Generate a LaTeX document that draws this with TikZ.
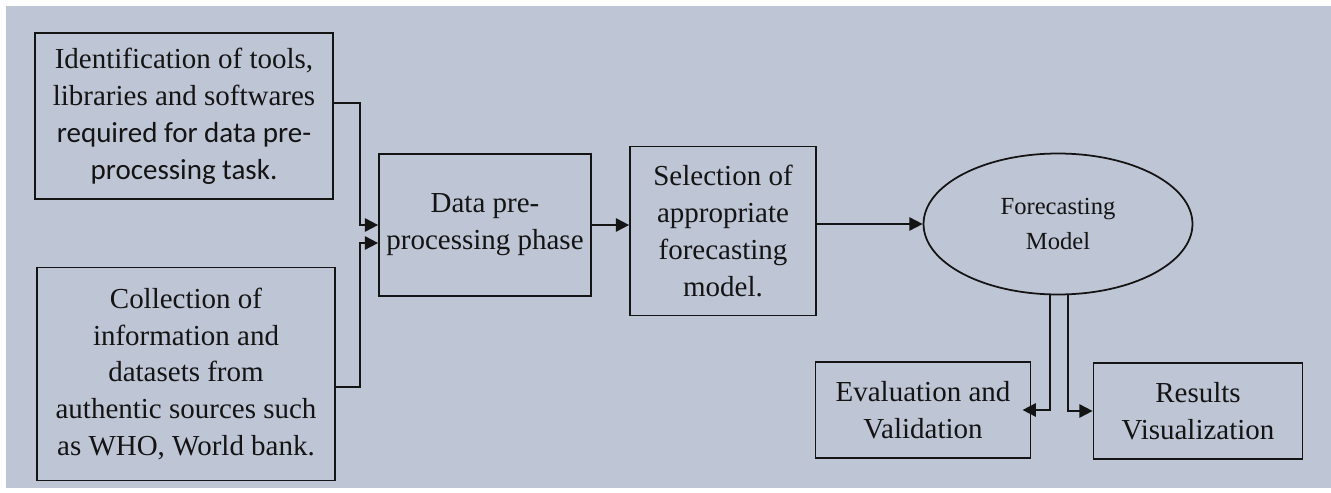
\documentclass[tikz,border=0pt]{standalone}
\usepackage{fontspec}
\setmainfont{Liberation Serif}
\newfontfamily\calib{Carlito}
\usetikzlibrary{arrows.meta, shapes.geometric}
\definecolor{bgcol}{RGB}{190,197,213}
\definecolor{inkcol}{RGB}{20,20,20}

\begin{document}
\begin{tikzpicture}[x=0.02cm, y=-0.02cm,
    box/.style={draw=inkcol, line width=1pt, align=center, inner sep=0pt,
        font=\fontsize{16.5}{21}\selectfont, text=inkcol},
    flow/.style={draw=inkcol, line width=1pt, -{Triangle[length=7.5pt,width=7.5pt]}}]

    % Background panel
    \fill[bgcol] (6,6) rectangle (1331,488);
    \useasboundingbox (0,0) rectangle (1331,493);

    % Inputs on the left
    \node[box, minimum width=5.96cm, minimum height=3.32cm] (ident) at (184,116)
        {Identification of tools,\\ libraries and softwares\\
         {\calib required for data pre-}\\ {\calib processing task.}};
    \node[box, minimum width=5.96cm, minimum height=4.26cm] (collect) at (186,374)
        {Collection of\\ information and\\ datasets from\\
         authentic sources such\\ as WHO, World bank.};

    % Main chain
    \node[box, minimum width=4.24cm, minimum height=2.84cm] (prep) at (485,225)
        {Data pre-\\ processing phase};
    \node[box, minimum width=3.72cm, minimum height=3.38cm] (select) at (723,231)
        {Selection of\\ appropriate\\ forecasting\\ model.};
    \node[box, ellipse, minimum width=5.38cm, minimum height=2.82cm,
        font=\fontsize{14}{20}\selectfont] (model) at (1058,224)
        {Forecasting\\ Model};

    % Outputs
    \node[box, minimum width=4.3cm, minimum height=1.92cm] (eval) at (923,410)
        {Evaluation and\\ Validation};
    \node[box, minimum width=4.18cm, minimum height=1.92cm] (result) at (1198,411)
        {Results\\ Visualization};

    % Arrows
    \draw[flow] ([yshift=0.26cm]ident.east) -| ([xshift=-0.36cm]prep.west) -- (prep.west);
    \draw[flow] ([yshift=-0.26cm]collect.east) -| ([xshift=-0.36cm,yshift=-0.36cm]prep.west)
        -- ([yshift=-0.36cm]prep.west);
    \draw[flow] (prep.east) -- (prep.east -| select.west);
    \draw[flow] (select.east |- model.west) -- (model.west);
    \draw[flow, shorten >=-5pt] ([xshift=-0.16cm]model.south) |- (eval.east);
    \draw[flow] ([xshift=0.2cm]model.south) |- (result.west);

\end{tikzpicture}
\end{document}
